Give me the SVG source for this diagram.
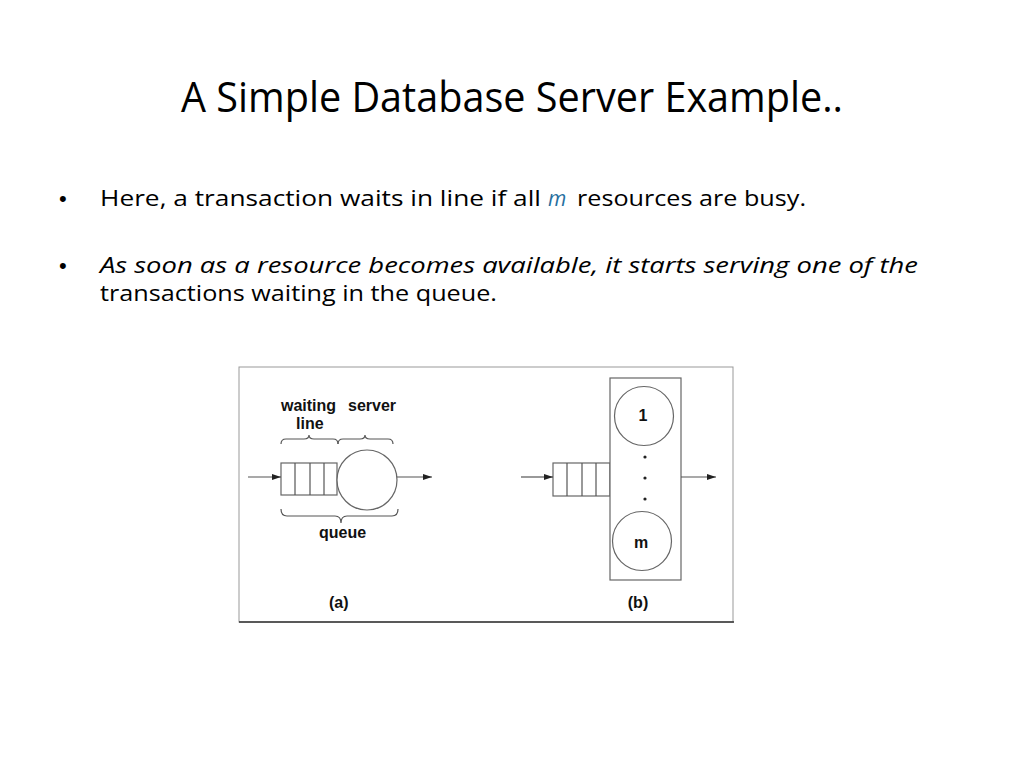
<svg xmlns="http://www.w3.org/2000/svg" width="1024" height="768" viewBox="0 0 1024 768">
<defs>
<style>
.title{font-family:"Open Sans","Liberation Sans",sans-serif;font-size:42px;fill:#000}
.body{font-family:"Open Sans","Liberation Sans",sans-serif;font-size:21px;fill:#000}
.bul{font-family:"Liberation Sans",Arial,sans-serif;font-size:22px;fill:#000}
.lbl{font-family:"Liberation Sans",Arial,sans-serif;font-size:16px;font-weight:bold;fill:#111}
.ln{fill:none;stroke:#555;stroke-width:1.2}
.fr{fill:#fff;stroke:#666;stroke-width:1.2}
</style>
<marker id="ah" markerWidth="10" markerHeight="6" refX="9" refY="3" orient="auto" markerUnits="userSpaceOnUse">
<path d="M0,0 L9,3 L0,6 Z" fill="#222"/>
</marker>
</defs>
<rect width="1024" height="768" fill="#fff"/>
<text class="title" x="181" y="112" textLength="662" lengthAdjust="spacingAndGlyphs">A Simple Database Server Example..</text>
<g id="bullets">
<text class="bul" x="59" y="206">•</text>
<text class="body" x="100" y="206" textLength="441" lengthAdjust="spacingAndGlyphs">Here, a transaction waits in line if all</text>
<text class="body" x="548" y="206" font-style="italic" style="fill:#27709f">m</text>
<text class="body" x="577" y="206" textLength="229" lengthAdjust="spacingAndGlyphs">resources are busy.</text>
<text class="bul" x="59" y="273">•</text>
<text class="body" x="100" y="273" font-style="italic" textLength="818" lengthAdjust="spacingAndGlyphs">As soon as a resource becomes available, it starts serving one of the</text>
<text class="body" x="100" y="301" textLength="397" lengthAdjust="spacingAndGlyphs">transactions waiting in the queue.</text>
</g>
<g id="frame">
<rect x="239" y="367" width="494" height="255" fill="#fff" stroke="#999" stroke-width="1"/>
<line x1="239" y1="622" x2="734" y2="622" stroke="#333" stroke-width="1.5"/>
</g>
<g id="a-labels">
<text class="lbl" x="281" y="411">waiting</text>
<text class="lbl" x="348" y="411">server</text>
<text class="lbl" x="296" y="429">line</text>
<text class="lbl" x="319" y="538">queue</text>
<text class="lbl" x="329" y="608">(a)</text>
</g>
<g id="a-braces">
<path class="ln" d="M281,444 Q281,439 286,439 L304,439 Q309,439 309,435 Q309,439 314,439 L333,439 Q338,439 338,444"/>
<path class="ln" d="M338,444 Q338,439 343,439 L360,439 Q365,439 365,435 Q365,439 370,439 L388,439 Q393,439 393,444"/>
<path class="ln" d="M281,509 Q281,516 287,516 L335,516 Q341,516 341,523 Q341,516 347,516 L392,516 Q398,516 398,509"/>
</g>
<g id="a-queue">
<rect class="fr" x="281" y="463" width="56" height="32"/>
<line class="ln" x1="295" y1="463" x2="295" y2="495"/>
<line class="ln" x1="310" y1="463" x2="310" y2="495"/>
<line class="ln" x1="324" y1="463" x2="324" y2="495"/>
</g>
<g id="a-server">
<circle class="fr" cx="367" cy="480" r="30"/>
</g>
<g id="b-queue">
<rect class="fr" x="553" y="463" width="57" height="33"/>
<line class="ln" x1="567" y1="463" x2="567" y2="496"/>
<line class="ln" x1="582" y1="463" x2="582" y2="496"/>
<line class="ln" x1="596" y1="463" x2="596" y2="496"/>
</g>
<g id="b-servers">
<rect class="fr" x="610" y="378" width="71" height="202"/>
<circle class="fr" cx="644" cy="416" r="29.5"/>
<text class="lbl" x="643" y="421" text-anchor="middle">1</text>
<circle cx="645" cy="457" r="1.6" fill="#222"/>
<circle cx="645" cy="478" r="1.6" fill="#222"/>
<circle cx="645" cy="499" r="1.6" fill="#222"/>
<circle class="fr" cx="642" cy="541" r="29.5"/>
<text class="lbl" x="641" y="548" text-anchor="middle">m</text>
<text class="lbl" x="638" y="608" text-anchor="middle">(b)</text>
</g>
<g id="connectors">
<line class="ln" x1="248" y1="477" x2="281" y2="477" marker-end="url(#ah)"/>
<line class="ln" x1="397" y1="477" x2="432" y2="477" marker-end="url(#ah)"/>
<line class="ln" x1="521" y1="477" x2="553" y2="477" marker-end="url(#ah)"/>
<line class="ln" x1="681" y1="477" x2="716" y2="477" marker-end="url(#ah)"/>
</g>
</svg>
